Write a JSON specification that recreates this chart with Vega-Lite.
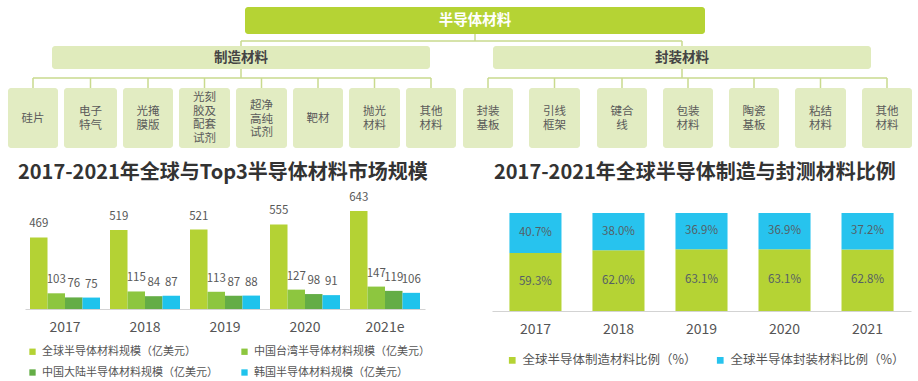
{
  "$schema": "https://vega.github.io/schema/vega-lite/v6.json",
  "padding": 0,
  "background": "white",
  "spacing": 0,
  "config": {
    "view": {"stroke": null},
    "font": "Noto Sans CJK SC",
    "concat": {"spacing": 0}
  },
  "resolve": {"scale": {"color": "independent"}, "legend": {"color": "independent"}},
  "datasets": {
    "boxes": [
      {"label": "半导体材料", "level": "root", "x": 245, "x2": 705, "y": 7, "y2": 34},
      {"label": "制造材料", "level": "group", "x": 52, "x2": 430, "y": 46, "y2": 69},
      {"label": "封装材料", "level": "group", "x": 493, "x2": 871, "y": 46, "y2": 69},
      {"label": "硅片", "level": "leaf", "x": 8, "x2": 58, "y": 88, "y2": 148},
      {"label": "电子\n特气", "level": "leaf", "x": 64, "x2": 117, "y": 88, "y2": 148},
      {"label": "光掩\n膜版", "level": "leaf", "x": 123, "x2": 173, "y": 88, "y2": 148},
      {"label": "光刻\n胶及\n配套\n试剂", "level": "leaf", "x": 179, "x2": 230, "y": 88, "y2": 148},
      {"label": "超净\n高纯\n试剂", "level": "leaf", "x": 236, "x2": 287, "y": 88, "y2": 148},
      {"label": "靶材", "level": "leaf", "x": 293, "x2": 343, "y": 88, "y2": 148},
      {"label": "抛光\n材料", "level": "leaf", "x": 349, "x2": 400, "y": 88, "y2": 148},
      {"label": "其他\n材料", "level": "leaf", "x": 406, "x2": 456, "y": 88, "y2": 148},
      {"label": "封装\n基板", "level": "leaf", "x": 463, "x2": 513, "y": 88, "y2": 148},
      {"label": "引线\n框架", "level": "leaf", "x": 529, "x2": 580, "y": 88, "y2": 148},
      {"label": "键合\n线", "level": "leaf", "x": 597, "x2": 647, "y": 88, "y2": 148},
      {"label": "包装\n材料", "level": "leaf", "x": 663, "x2": 713, "y": 88, "y2": 148},
      {"label": "陶瓷\n基板", "level": "leaf", "x": 729, "x2": 779, "y": 88, "y2": 148},
      {"label": "粘结\n材料", "level": "leaf", "x": 795, "x2": 846, "y": 88, "y2": 148},
      {"label": "其他\n材料", "level": "leaf", "x": 862, "x2": 912, "y": 88, "y2": 148}
    ],
    "links": [
      {"x": 475, "x2": 475, "y": 34, "y2": 41},
      {"x": 241, "x2": 682, "y": 41, "y2": 41},
      {"x": 241, "x2": 241, "y": 41, "y2": 46},
      {"x": 682, "x2": 682, "y": 41, "y2": 46},
      {"x": 241, "x2": 241, "y": 69, "y2": 78},
      {"x": 33, "x2": 431, "y": 78, "y2": 78},
      {"x": 682, "x2": 682, "y": 69, "y2": 78},
      {"x": 488, "x2": 887, "y": 78, "y2": 78},
      {"x": 33, "x2": 33, "y": 78, "y2": 88},
      {"x": 90.5, "x2": 90.5, "y": 78, "y2": 88},
      {"x": 148, "x2": 148, "y": 78, "y2": 88},
      {"x": 204.5, "x2": 204.5, "y": 78, "y2": 88},
      {"x": 261.5, "x2": 261.5, "y": 78, "y2": 88},
      {"x": 318, "x2": 318, "y": 78, "y2": 88},
      {"x": 374.5, "x2": 374.5, "y": 78, "y2": 88},
      {"x": 431, "x2": 431, "y": 78, "y2": 88},
      {"x": 488, "x2": 488, "y": 78, "y2": 88},
      {"x": 554.5, "x2": 554.5, "y": 78, "y2": 88},
      {"x": 622, "x2": 622, "y": 78, "y2": 88},
      {"x": 688, "x2": 688, "y": 78, "y2": 88},
      {"x": 754, "x2": 754, "y": 78, "y2": 88},
      {"x": 820.5, "x2": 820.5, "y": 78, "y2": 88},
      {"x": 887, "x2": 887, "y": 78, "y2": 88}
    ],
    "market": [
      {"year": "2017", "series": "全球半导体材料规模（亿美元）", "value": 469},
      {"year": "2017", "series": "中国台湾半导体材料规模（亿美元）", "value": 103},
      {"year": "2017", "series": "中国大陆半导体材料规模（亿美元）", "value": 76},
      {"year": "2017", "series": "韩国半导体材料规模（亿美元）", "value": 75},
      {"year": "2018", "series": "全球半导体材料规模（亿美元）", "value": 519},
      {"year": "2018", "series": "中国台湾半导体材料规模（亿美元）", "value": 115},
      {"year": "2018", "series": "中国大陆半导体材料规模（亿美元）", "value": 84},
      {"year": "2018", "series": "韩国半导体材料规模（亿美元）", "value": 87},
      {"year": "2019", "series": "全球半导体材料规模（亿美元）", "value": 521},
      {"year": "2019", "series": "中国台湾半导体材料规模（亿美元）", "value": 113},
      {"year": "2019", "series": "中国大陆半导体材料规模（亿美元）", "value": 87},
      {"year": "2019", "series": "韩国半导体材料规模（亿美元）", "value": 88},
      {"year": "2020", "series": "全球半导体材料规模（亿美元）", "value": 555},
      {"year": "2020", "series": "中国台湾半导体材料规模（亿美元）", "value": 127},
      {"year": "2020", "series": "中国大陆半导体材料规模（亿美元）", "value": 98},
      {"year": "2020", "series": "韩国半导体材料规模（亿美元）", "value": 91},
      {"year": "2021e", "series": "全球半导体材料规模（亿美元）", "value": 643},
      {"year": "2021e", "series": "中国台湾半导体材料规模（亿美元）", "value": 147},
      {"year": "2021e", "series": "中国大陆半导体材料规模（亿美元）", "value": 119},
      {"year": "2021e", "series": "韩国半导体材料规模（亿美元）", "value": 106}
    ],
    "ratio": [
      {"year": "2017", "series": "全球半导体制造材料比例（%）", "k": 1, "share": 0.593},
      {"year": "2017", "series": "全球半导体封装材料比例（%）", "k": 2, "share": 0.407},
      {"year": "2018", "series": "全球半导体制造材料比例（%）", "k": 1, "share": 0.620},
      {"year": "2018", "series": "全球半导体封装材料比例（%）", "k": 2, "share": 0.380},
      {"year": "2019", "series": "全球半导体制造材料比例（%）", "k": 1, "share": 0.631},
      {"year": "2019", "series": "全球半导体封装材料比例（%）", "k": 2, "share": 0.369},
      {"year": "2020", "series": "全球半导体制造材料比例（%）", "k": 1, "share": 0.631},
      {"year": "2020", "series": "全球半导体封装材料比例（%）", "k": 2, "share": 0.369},
      {"year": "2021", "series": "全球半导体制造材料比例（%）", "k": 1, "share": 0.628},
      {"year": "2021", "series": "全球半导体封装材料比例（%）", "k": 2, "share": 0.372}
    ]
  },
  "vconcat": [
    {
      "width": 893,
      "height": 163,
      "layer": [
        {
          "data": {"name": "links"},
          "mark": {"type": "rule", "color": "#c9da8e", "strokeWidth": 1.5},
          "encoding": {
            "x": {"field": "x", "type": "quantitative", "scale": {"domain": [25, 918], "nice": false, "zero": false}, "axis": null},
            "x2": {"field": "x2"},
            "y": {"field": "y", "type": "quantitative", "scale": {"domain": [0, 163], "nice": false, "zero": false, "reverse": true}, "axis": null},
            "y2": {"field": "y2"}
          }
        },
        {
          "data": {"name": "boxes"},
          "mark": {"type": "rect", "cornerRadius": 3},
          "encoding": {
            "x": {"field": "x", "type": "quantitative", "scale": {"domain": [25, 918], "nice": false, "zero": false}, "axis": null},
            "x2": {"field": "x2"},
            "y": {"field": "y", "type": "quantitative", "scale": {"domain": [0, 163], "nice": false, "zero": false, "reverse": true}, "axis": null},
            "y2": {"field": "y2"},
            "color": {"field": "level", "type": "nominal", "scale": {"domain": ["root", "group", "leaf"], "range": ["#b5d334", "#e0ebbc", "#e2ecc2"]}, "legend": null}
          }
        },
        {
          "data": {"name": "boxes"},
          "transform": [
            {"filter": "datum.level === 'root'"},
            {"calculate": "(datum.x + datum.x2) / 2", "as": "cx"},
            {"calculate": "(datum.y + datum.y2) / 2", "as": "cy"}
          ],
          "mark": {"type": "text", "fontSize": 14.5, "fontWeight": "bold", "color": "white", "baseline": "middle", "align": "center"},
          "encoding": {
            "x": {"field": "cx", "type": "quantitative"},
            "y": {"field": "cy", "type": "quantitative"},
            "text": {"field": "label"}
          }
        },
        {
          "data": {"name": "boxes"},
          "transform": [
            {"filter": "datum.level === 'group'"},
            {"calculate": "(datum.x + datum.x2) / 2", "as": "cx"},
            {"calculate": "(datum.y + datum.y2) / 2", "as": "cy"}
          ],
          "mark": {"type": "text", "fontSize": 13.5, "fontWeight": "bold", "color": "#444444", "baseline": "middle", "align": "center"},
          "encoding": {
            "x": {"field": "cx", "type": "quantitative"},
            "y": {"field": "cy", "type": "quantitative"},
            "text": {"field": "label"}
          }
        },
        {
          "data": {"name": "boxes"},
          "transform": [
            {"filter": "datum.level === 'leaf' && length(split(datum.label, '\\n')) === 1"},
            {"calculate": "(datum.x + datum.x2) / 2", "as": "cx"},
            {"calculate": "(datum.y + datum.y2) / 2", "as": "cy"}
          ],
          "mark": {"type": "text", "fontSize": 11.5, "color": "#5a5a5a", "baseline": "middle", "align": "center", "lineBreak": "\n", "lineHeight": 13.5, "dy": 1},
          "encoding": {
            "x": {"field": "cx", "type": "quantitative"},
            "y": {"field": "cy", "type": "quantitative"},
            "text": {"field": "label"}
          }
        },
        {
          "data": {"name": "boxes"},
          "transform": [
            {"filter": "datum.level === 'leaf' && length(split(datum.label, '\\n')) === 2"},
            {"calculate": "(datum.x + datum.x2) / 2", "as": "cx"},
            {"calculate": "(datum.y + datum.y2) / 2", "as": "cy"}
          ],
          "mark": {"type": "text", "fontSize": 11.5, "color": "#5a5a5a", "baseline": "middle", "align": "center", "lineBreak": "\n", "lineHeight": 13.5, "dy": -6},
          "encoding": {
            "x": {"field": "cx", "type": "quantitative"},
            "y": {"field": "cy", "type": "quantitative"},
            "text": {"field": "label"}
          }
        },
        {
          "data": {"name": "boxes"},
          "transform": [
            {"filter": "datum.level === 'leaf' && length(split(datum.label, '\\n')) === 3"},
            {"calculate": "(datum.x + datum.x2) / 2", "as": "cx"},
            {"calculate": "(datum.y + datum.y2) / 2", "as": "cy"}
          ],
          "mark": {"type": "text", "fontSize": 11.5, "color": "#5a5a5a", "baseline": "middle", "align": "center", "lineBreak": "\n", "lineHeight": 13.5, "dy": -12},
          "encoding": {
            "x": {"field": "cx", "type": "quantitative"},
            "y": {"field": "cy", "type": "quantitative"},
            "text": {"field": "label"}
          }
        },
        {
          "data": {"name": "boxes"},
          "transform": [
            {"filter": "datum.level === 'leaf' && length(split(datum.label, '\\n')) === 4"},
            {"calculate": "(datum.x + datum.x2) / 2", "as": "cx"},
            {"calculate": "(datum.y + datum.y2) / 2", "as": "cy"}
          ],
          "mark": {"type": "text", "fontSize": 11.5, "color": "#5a5a5a", "baseline": "middle", "align": "center", "lineBreak": "\n", "lineHeight": 13.5, "dy": -20},
          "encoding": {
            "x": {"field": "cx", "type": "quantitative"},
            "y": {"field": "cy", "type": "quantitative"},
            "text": {"field": "label"}
          }
        }
      ]
    },
    {
      "spacing": 62,
      "resolve": {"scale": {"color": "independent"}, "legend": {"color": "independent"}},
      "hconcat": [
        {
          "width": 400,
          "height": 118,
          "title": {"text": "2017-2021年全球与Top3半导体材料市场规模", "anchor": "start", "frame": "group", "fontSize": 20, "fontWeight": "bold", "color": "#333333", "offset": 8, "dx": -7},
          "data": {"name": "market"},
          "encoding": {
            "x": {"field": "year", "type": "nominal", "sort": null, "scale": {"paddingInner": 0.125, "paddingOuter": 0.0625},
                  "axis": {"title": null, "labelAngle": 0, "ticks": false, "domainColor": "#d3d3d3", "labelFontSize": 14, "labelColor": "#555555", "labelPadding": 11}},
            "xOffset": {"field": "series", "type": "nominal", "sort": null, "scale": {"paddingInner": 0, "paddingOuter": 0}},
            "y": {"field": "value", "type": "quantitative", "scale": {"domain": [0, 774], "nice": false},
                  "axis": {"title": null, "labels": false, "ticks": false, "domain": false, "grid": false, "minExtent": 25, "maxExtent": 25}}
          },
          "layer": [
            {
              "mark": {"type": "bar"},
              "encoding": {
                "color": {"field": "series", "type": "nominal",
                          "scale": {"domain": ["全球半导体材料规模（亿美元）", "中国台湾半导体材料规模（亿美元）", "中国大陆半导体材料规模（亿美元）", "韩国半导体材料规模（亿美元）"],
                                    "range": ["#b4d234", "#8dc63f", "#64ad46", "#1fc3ec"]},
                          "legend": {"orient": "none", "legendX": 2, "legendY": 155, "direction": "horizontal", "columns": 2, "title": null,
                                     "symbolType": "square", "symbolSize": 40, "labelFontSize": 11, "labelColor": "#555555",
                                     "columnPadding": 21, "rowPadding": 9, "labelLimit": 400, "padding": 0}}
              }
            },
            {
              "mark": {"type": "text", "dy": -10, "baseline": "alphabetic", "fontSize": 11.5, "color": "#595959"},
              "encoding": {"text": {"field": "value", "type": "quantitative"}}
            }
          ]
        },
        {
          "width": 419,
          "height": 120,
          "title": {"text": "2017-2021年全球半导体制造与封测材料比例", "anchor": "start", "frame": "group", "fontSize": 20, "fontWeight": "bold", "color": "#333333", "offset": 8, "dx": 2},
          "data": {"name": "ratio"},
          "transform": [
            {"stack": "share", "groupby": ["year"], "sort": [{"field": "k", "order": "ascending"}], "as": ["y0", "y1"]},
            {"calculate": "(datum.y0 + datum.y1) / 2", "as": "mid"}
          ],
          "encoding": {
            "x": {"field": "year", "type": "nominal", "sort": null, "scale": {"paddingInner": 0.373, "paddingOuter": 0.21},
                  "axis": {"title": null, "labelAngle": 0, "ticks": false, "domainColor": "#d3d3d3", "labelFontSize": 14, "labelColor": "#555555", "labelPadding": 11}}
          },
          "layer": [
            {
              "mark": {"type": "bar"},
              "encoding": {
                "y": {"field": "y0", "type": "quantitative", "scale": {"domain": [0, 1.2245], "nice": false}, "axis": null},
                "y2": {"field": "y1"},
                "color": {"field": "series", "type": "nominal",
                          "scale": {"domain": ["全球半导体制造材料比例（%）", "全球半导体封装材料比例（%）"], "range": ["#b5d334", "#27c3ee"]},
                          "legend": {"orient": "none", "legendX": 14, "legendY": 163, "direction": "horizontal", "columns": 2, "title": null,
                                     "symbolType": "square", "symbolSize": 45, "labelFontSize": 12.5, "labelColor": "#555555",
                                     "columnPadding": 17, "labelLimit": 400, "padding": 0}}
              }
            },
            {
              "mark": {"type": "text", "baseline": "middle", "fontSize": 11.5, "color": "#555f66"},
              "encoding": {
                "y": {"field": "mid", "type": "quantitative"},
                "text": {"field": "share", "type": "quantitative", "format": ".1%"}
              }
            }
          ]
        }
      ]
    }
  ]
}
